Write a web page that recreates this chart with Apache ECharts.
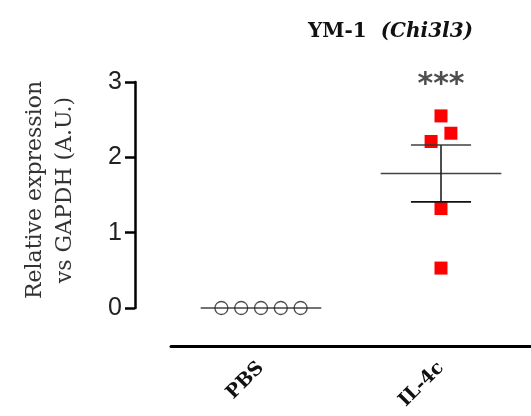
<!DOCTYPE html>
<html>
<head>
<meta charset="utf-8">
<script src="https://cdn.jsdelivr.net/npm/echarts@6/dist/echarts.min.js"></script>
<style>
  html, body { margin: 0; padding: 0; background: #fff; }
  #chart { width: 531px; height: 416px; }
</style>
</head>
<body>
<div id="chart"></div>
<script>
  // groups on the x axis
  const categories = ['PBS', 'IL-4c'];
  // relative expression, one value per animal
  const pbsValues = [0, 0, 0, 0, 0];
  const il4cValues = [2.55, 2.32, 2.21, 1.32, 0.53];
  // horizontal scatter of the dots inside each group (in category units)
  const pbsJitter = [-0.22, -0.11, 0, 0.11, 0.22];
  const il4cJitter = [0, 0.055, -0.055, 0, 0];
  const yTicks = [0, 1, 2, 3];
  const signif = '***';

  function meanSem(arr) {
    let n = arr.length;
    let m = arr.reduce((a, b) => a + b, 0) / n;
    let v = arr.reduce((a, b) => a + (b - m) * (b - m), 0) / (n - 1);
    return [m, Math.sqrt(v / n)];
  }

  let stats = [pbsValues, il4cValues].map((arr, i) => {
    let s = meanSem(arr);
    return [i + 1, s[0], s[1]];
  });

  let chart = echarts.init(document.getElementById('chart'));
  chart.setOption({
    animation: false,
    title: {
      text: '{a|YM-1}{b|(Chi3l3)}',
      left: 303,
      top: 17,
      textStyle: {
        rich: {
          a: { fontFamily: 'DejaVu Serif', fontWeight: 'bold', fontSize: 20, color: '#111', padding: [0, 14, 0, 0] },
          b: { fontFamily: 'DejaVu Serif', fontWeight: 'bold', fontStyle: 'italic', fontSize: 20, color: '#111' }
        }
      }
    },
    grid: { left: 171, right: 0, top: 82, bottom: 108 },
    xAxis: [
      {
        type: 'category',
        data: categories,
        offset: 38,
        axisLine: { onZero: false, lineStyle: { color: '#000', width: 3 } },
        axisTick: { alignWithLabel: true, length: 9, lineStyle: { width: 2.5, color: '#000' } },
        axisLabel: {
          rotate: 45,
          margin: 19,
          fontFamily: 'DejaVu Serif',
          fontWeight: 'bold',
          fontSize: 19,
          color: '#111'
        },
        splitLine: { show: false }
      },
      {
        type: 'value',
        min: 0.5,
        max: 2.5,
        show: false
      }
    ],
    yAxis: {
      type: 'value',
      min: 0,
      max: 3,
      interval: 1,
      offset: 36,
      name: 'Relative expression\nvs GAPDH (A.U.)',
      nameLocation: 'middle',
      nameGap: 55,
      nameTextStyle: {
        fontFamily: 'DejaVu Serif',
        fontSize: 22,
        lineHeight: 30,
        color: '#333',
        padding: [0, 0, 0, 10]
      },
      axisLine: { show: true, lineStyle: { color: '#000', width: 2.5 } },
      axisTick: { show: true, length: 10, lineStyle: { width: 2.5, color: '#000' } },
      axisLabel: {
        margin: 13,
        fontFamily: 'Liberation Sans',
        fontSize: 25,
        color: '#222',
        formatter: function (v) { return yTicks.indexOf(v) >= 0 ? String(v) : ''; }
      },
      splitLine: { show: false }
    },
    series: [
      {
        // mean and SEM bars
        type: 'custom',
        xAxisIndex: 1,
        data: stats,
        z: 2,
        renderItem: function (params, api) {
          let x = api.value(0), m = api.value(1), s = api.value(2);
          let style = { stroke: '#222', lineWidth: 1.6, opacity: 0.85 };
          let pts = function (a, b) {
            return { x1: a[0], y1: a[1], x2: b[0], y2: b[1] };
          };
          let children = [
            { type: 'line', shape: pts(api.coord([x - 0.335, m]), api.coord([x + 0.335, m])), style: style }
          ];
          if (s > 0) {
            children.push(
              { type: 'line', shape: pts(api.coord([x, m - s]), api.coord([x, m + s])), style: { stroke: '#222', lineWidth: 2, opacity: 0.8 } },
              { type: 'line', shape: pts(api.coord([x - 0.167, m + s]), api.coord([x + 0.167, m + s])), style: { stroke: '#333', lineWidth: 2, opacity: 0.7 } },
              { type: 'line', shape: pts(api.coord([x - 0.167, m - s]), api.coord([x + 0.167, m - s])), style: { stroke: '#111', lineWidth: 1.6 } }
            );
          }
          return { type: 'group', children: children };
        }
      },
      {
        name: 'PBS',
        type: 'scatter',
        xAxisIndex: 1,
        z: 3,
        symbol: 'circle',
        symbolSize: 13,
        itemStyle: { color: 'rgba(255,255,255,0)', borderColor: '#222', borderWidth: 1.3 },
        data: pbsValues.map((v, i) => [1 + pbsJitter[i], v])
      },
      {
        name: 'IL-4c',
        type: 'scatter',
        xAxisIndex: 1,
        z: 1,
        symbol: 'rect',
        symbolSize: 13,
        itemStyle: { color: '#ff0000', opacity: 1 },
        data: il4cValues.map((v, i) => [2 + il4cJitter[i], v])
      },
      {
        // significance mark above IL-4c
        type: 'scatter',
        xAxisIndex: 1,
        clip: false,
        symbolSize: 1,
        itemStyle: { color: 'rgba(0,0,0,0)' },
        label: {
          show: true,
          position: 'inside',
          formatter: signif,
          fontFamily: 'DejaVu Sans',
          fontWeight: 'bold',
          fontSize: 30,
          color: '#222'
        },
        data: [[2, 2.96]]
      }
    ]
  });
</script>
</body>
</html>
